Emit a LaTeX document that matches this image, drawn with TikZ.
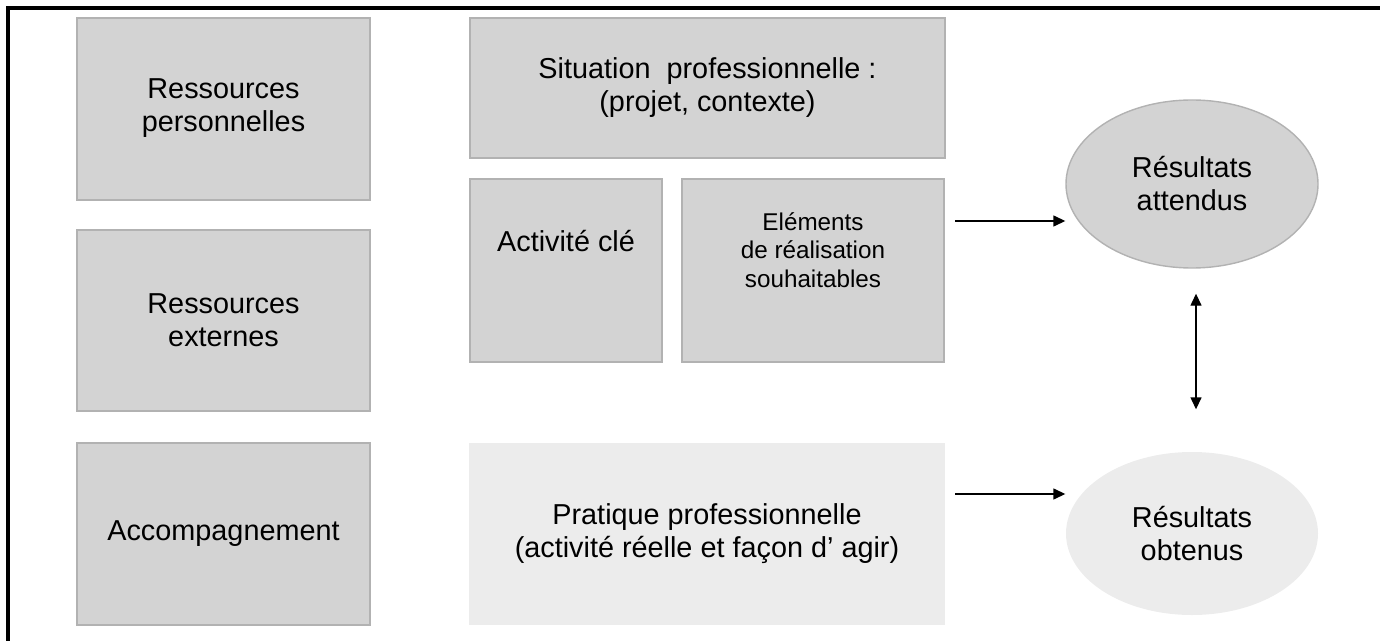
\documentclass[tikz,border=0pt]{standalone}
\usepackage{fontspec}
\setmainfont{Liberation Sans}
\usetikzlibrary{shapes.geometric,arrows.meta}
\definecolor{boxgray}{HTML}{D3D3D3}
\definecolor{palegray}{HTML}{ECECEC}
\definecolor{edgegray}{HTML}{B2B2B2}
\begin{document}
\begin{tikzpicture}[>={Triangle[length=1.2mm,width=1.1mm]}, line width=0.4pt,
    main box/.style={rectangle,draw=edgegray,fill=boxgray,align=center,inner sep=0pt,font=\fontsize{8.2}{9.4}\selectfont},
    pale box/.style={main box,draw=none,fill=palegray},
    result node/.style={ellipse,draw=edgegray,fill=boxgray,align=center,inner sep=0pt,font=\fontsize{8.2}{9.4}\selectfont},
    small text/.style={font=\fontsize{6.9}{8.2}\selectfont}]

    \useasboundingbox (0,0) rectangle (13.8,-6.41);
    \draw[line width=1pt] (0.08,-6.41) -- (0.08,-0.08) -- (13.8,-0.08);

    % left column
    \node[main box, minimum width=2.93cm, minimum height=1.82cm] at (2.235,-1.09) (perso) {\\[-0.5em]Ressources\\personnelles};
    \node[main box, minimum width=2.93cm, minimum height=1.81cm] at (2.235,-3.205) (ext) {\\[-0.5em]Ressources\\externes};
    \node[main box, minimum width=2.93cm, minimum height=1.82cm] at (2.235,-5.34) (accomp) {Accompagnement};

    % middle column
    \node[main box, minimum width=4.75cm, minimum height=1.40cm] at (7.075,-0.88) (situation) {Situation\ \ professionnelle :\\(projet, contexte)};
    \node[main box, minimum width=1.92cm, minimum height=1.83cm] at (5.66,-2.705) (activite) {Activité clé\\[0.9em]};
    \node[main box, small text, minimum width=2.62cm, minimum height=1.83cm] at (8.13,-2.705) (elements) {Eléments\\de réalisation\\souhaitables\\[0.5em]};
    \node[pale box, minimum width=4.76cm, minimum height=1.82cm] at (7.07,-5.34) (pratique) {Pratique professionnelle\\(activité réelle et façon d’ agir)};

    % results
    \node[result node, minimum width=2.52cm, minimum height=1.68cm] at (11.92,-1.84) (attendus) {Résultats\\attendus};
    \node[result node, draw=none, fill=palegray, minimum width=2.52cm, minimum height=1.63cm] at (11.92,-5.335) (obtenus) {Résultats\\obtenus};

    \coordinate (from1) at (9.55,-2.21);
    \coordinate (from2) at (9.55,-4.94);

    \draw[->] (from1) -- (from1 -| attendus.west);
    \draw[->] (from2) -- (from2 -| obtenus.west);
    \draw[<->] ([xshift=0.04cm,yshift=-0.25cm]attendus.south) -- ([xshift=0.04cm,yshift=0.42cm]obtenus.north);

\end{tikzpicture}
\end{document}
